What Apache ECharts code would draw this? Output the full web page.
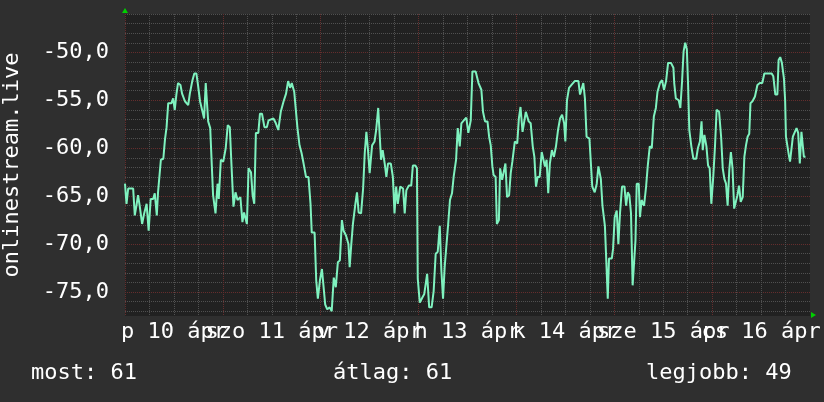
<!DOCTYPE html>
<html>
<head>
<meta charset="utf-8">
<script src="https://cdn.jsdelivr.net/npm/echarts@6/dist/echarts.min.js"></script>
<style>
html,body{margin:0;padding:0;background:#2f2f2f;}
#c{width:824px;height:402px;}
</style>
</head>
<body>
<div id="c"></div>
<script>
// Data (hours since Apr 10 00:00, value)
var hours = [0,0.37,0.78,2.0,2.4,2.8,3.2,3.6,4.2,4.7,5.3,5.8,6.3,6.9,7.3,7.8,8.1,8.8,9.4,9.8,10.2,10.6,11.4,11.8,12.2,12.6,13.0,13.6,14.0,14.7,15.5,15.9,16.5,17.0,17.5,17.9,18.4,18.9,19.4,19.8,20.1,20.4,20.9,21.2,21.6,22.2,22.7,23.0,23.5,24.1,24.7,25.2,25.7,26.1,26.6,27.1,
27.6,28.3,28.8,29.2,29.9,30.3,30.9,31.3,31.7,32.1,32.7,33.1,33.6,34.2,34.8,35.2,36.4,37.0,37.6,38.2,38.9,39.5,40.0,40.5,40.9,41.5,41.9,42.3,42.8,43.3,43.8,44.4,45.0,45.5,45.8,46.5,46.9,47.3,47.8,48.3,48.6,49.1,49.6,50.2,50.7,51.2,51.7,52.2,52.7,53.2,53.6,54.2,54.8,55.1,55.5,55.9,
56.5,56.9,57.3,57.9,58.4,58.8,59.2,59.6,60.0,60.6,61.2,61.6,62.1,62.5,62.8,63.2,63.7,64.1,64.5,65.2,65.7,66.1,66.5,66.9,67.5,68.2,68.6,69.0,69.6,70.2,70.6,71.2,71.6,71.8,72.3,72.9,73.4,74.1,74.6,75.2,75.7,76.2,76.7,77.2,77.6,78.0,78.4,78.8,79.3,79.7,80.2,80.6,81.2,81.6,82.1,82.5,83.1,83.7,84.2,84.8,
85.2,86.0,86.3,86.7,87.4,87.8,88.3,88.9,89.3,89.7,90.1,90.4,90.9,91.2,91.7,92.0,92.5,92.9,93.3,93.7,94.2,94.6,95.0,95.6,96.2,96.6,97.0,97.5,97.9,98.3,98.6,99.0,99.5,100.0,100.4,100.8,101.2,101.7,102.2,102.6,103.0,103.4,103.8,104.2,104.7,105.2,105.7,106.2,106.7,107.2,107.7,108.0,108.4,108.9,109.5,110.3,111.2,111.6,112.0,112.4,112.8,113.2,113.9,
114.2,114.6,115.2,115.7,116.1,116.7,117.1,117.7,118.1,118.4,118.7,119.4,119.7,120.1,120.6,121.0,121.4,121.9,122.5,122.9,123.3,123.7,124.1,124.5,124.8,125.2,125.5,126.0,126.3,126.7,127.3,127.8,128.2,128.7,129.2,129.7,130.2,130.6,131.2,131.7,132.2,132.7,133.2,133.9,134.5,134.7,135.1,135.8,136.2,136.6,137.0,137.4,137.8,138.1,138.4,138.9,139.4,140.1,140.5,141.0,141.4,141.7,142.1,
142.6,143.0,143.4,143.8,144.3,144.7,145.1,145.7,146.2,146.6,147.0,147.4,147.8,148.2,148.6,149.0,149.4,149.8,150.2,150.6,151.0,151.5,151.9,152.3,152.7,153.1,153.4,153.9,154.5,155.1,155.7,156.3,156.8,157.2,158.6,159.0,159.5,160.0,160.3,160.7,161.1,161.6,161.9,162.1,162.4,162.8,163.1,163.4,163.8,164.3,164.7,165.1,165.5,165.9,166.2,166.5,166.9];
var values = [-63.7,-65.8,-64.2,-64.2,-67.0,-66.0,-64.9,-66.0,-67.9,-66.8,-65.8,-68.6,-65.3,-65.3,-64.7,-67.0,-64.6,-61.2,-61.1,-59.1,-57.8,-55.3,-55.3,-54.8,-56.0,-54.4,-53.2,-53.4,-54.3,-55.1,-55.5,-54.3,-53.0,-52.2,-52.2,-53.4,-55.1,-56.0,-56.9,-53.2,-53.4,-57.2,-57.9,-60.9,-64.9,-66.8,-63.7,-65.3,-61.2,-61.4,-60.0,-57.6,-57.8,-61.6,-66.1,-64.6,
-65.4,-65.1,-67.7,-66.7,-67.9,-62.1,-62.5,-64.9,-65.8,-58.4,-58.4,-56.4,-56.4,-57.8,-57.8,-57.1,-56.9,-57.4,-58.1,-56.2,-55.1,-54.3,-53.0,-53.7,-53.2,-54.1,-54.3,-57.9,-59.7,-60.5,-61.6,-63.0,-63.0,-65.8,-68.8,-68.8,-73.8,-75.7,-73.8,-72.6,-74.0,-76.3,-76.8,-76.6,-77.0,-73.5,-74.5,-71.9,-71.7,-67.5,-68.6,-69.1,-70.0,-72.4,-70.0,-67.9,
-65.8,-64.6,-66.7,-66.8,-64.2,-60.5,-58.3,-60.2,-62.6,-59.7,-59.3,-58.1,-55.8,-56.0,-61.2,-60.2,-61.6,-63.0,-61.6,-61.6,-63.0,-66.8,-64.0,-65.8,-64.0,-64.2,-66.8,-64.4,-63.9,-63.9,-61.8,-61.8,-62.1,-73.6,-76.1,-75.6,-75.2,-73.1,-76.6,-76.6,-74.9,-71.0,-70.8,-68.1,-72.8,-75.7,-72.4,-70.3,-67.7,-65.4,-64.7,-63.0,-61.2,-57.9,-59.8,-57.4,-57.1,-56.8,-58.4,-57.1,
-52.0,-52.0,-51.8,-53.2,-53.9,-56.2,-57.2,-57.2,-58.8,-59.7,-61.9,-62.8,-63.0,-67.9,-67.5,-62.1,-63.3,-63.5,-61.6,-65.1,-64.9,-62.6,-61.4,-59.3,-59.5,-56.9,-55.7,-58.3,-58.3,-56.2,-56.4,-57.2,-57.4,-59.8,-60.9,-64.0,-63.0,-63.0,-60.4,-60.4,-61.9,-61.2,-64.7,-61.6,-60.2,-60.9,-59.8,-58.1,-56.9,-56.5,-57.4,-59.3,-55.0,-53.7,-53.4,-53.0,-53.0,-54.4,-54.4,-53.2,-54.8,-58.8,-59.0,
-59.1,-64.0,-64.6,-63.7,-61.9,-63.2,-66.0,-68.1,-72.4,-75.7,-71.5,-71.5,-70.5,-67.2,-66.5,-70.0,-66.8,-64.0,-64.0,-66.0,-64.6,-64.9,-66.8,-74.3,-74.3,-69.6,-63.7,-63.7,-67.2,-65.4,-66.0,-64.0,-61.9,-59.8,-60.0,-56.7,-55.8,-54.1,-53.2,-52.9,-53.9,-53.0,-51.1,-51.1,-51.6,-53.2,-54.8,-55.0,-55.8,-53.2,-49.9,-49.0,-49.7,-53.4,-58.1,-59.8,-61.1,-61.1,-60.0,-59.3,-57.2,-60.2,-58.6,
-59.8,-61.8,-62.1,-65.8,-62.8,-59.8,-56.0,-56.2,-58.8,-62.1,-63.2,-63.7,-66.0,-62.3,-60.4,-62.1,-66.3,-66.5,-64.9,-63.9,-65.6,-65.1,-60.9,-59.7,-58.8,-58.5,-55.3,-55.1,-54.6,-53.4,-53.2,-53.2,-52.2,-52.2,-52.2,-52.5,-54.4,-54.4,-50.8,-50.5,-51.1,-52.7,-55.0,-58.8,-59.0,-60.7,-61.4,-61.4,-58.8,-58.3,-57.9,-58.4,-61.6,-58.3,-58.3,-60.9,-60.9];

var dayLabels = ['p 10 ápr','szo 11 ápr','v 12 ápr','h 13 ápr','k 14 ápr','sze 15 ápr','cs 16 ápr'];
var dayLabelHours = [12,36,60,84,108,132,156];
var xMajorTicks = [0,24,48,72,96,120,144];
var xMinorTicks = [6,12,18,30,36,42,54,60,66,78,84,90,102,108,114,126,132,138,150,156,162];
var yMajorTicks = [-75,-70,-65,-60,-55,-50];
var yMinorTicks = [-77,-76,-74,-73,-72,-71,-69,-68,-67,-66,-64,-63,-62,-61,-59,-58,-57,-56,-54,-53,-52,-51,-49,-48,-47,-46];
var axisTitle = 'onlinestream.live';
var statTexts = ['most: 61','átlag: 61','legjobb: 49'];

var FONT = '"DejaVu Sans Mono", monospace';
var MINOR = '#505050', MAJOR = '#652d2d';
var X_MIN = 0, X_MAX = 168, Y_MIN = -77.5, Y_MAX = -46;

var seriesData = hours.map(function(h,i){return [h, values[i]];});
// split label positions into two non-overlapping groups (even / odd days)
var labelHoursA = dayLabelHours.filter(function(h,i){return i%2===0;});
var labelHoursB = dayLabelHours.filter(function(h,i){return i%2===1;});

function gridAxisX(ticks, color, labelHours){
  return {
    type:'value', min:X_MIN, max:X_MAX, position:'bottom',
    axisLine:{show:false},
    axisTick:{show:false, customValues:ticks},
    splitLine:{show:true, lineStyle:{color:color, type:[1,1], width:1}},
    axisLabel: {
      show:true, margin:5, color:'#ffffff', fontFamily:FONT, fontSize:22,
      showMinLabel:true, showMaxLabel:true, hideOverlap:false,
      customValues: labelHours,
      formatter:function(v){ var i = dayLabelHours.indexOf(Math.round(v)); return i>=0 ? dayLabels[i] : ''; }
    }
  };
}
function gridAxisY(ticks, color, withLabels){
  var a = {
    type:'value', min:Y_MIN, max:Y_MAX, position:'left',
    axisLine:{show:false},
    axisTick:{show:false, customValues:ticks},
    splitLine:{show:true, lineStyle:{color:color, type:[1,1], width:1}},
    axisLabel: withLabels ? {
      show:true, margin:16, color:'#ffffff', fontFamily:FONT, fontSize:22,
      showMinLabel:true, showMaxLabel:true,
      customValues: yMajorTicks,
      formatter:function(v){ return v.toFixed(1).replace('.',','); }
    } : {show:false}
  };
  if (withLabels) {
    a.name = axisTitle; a.nameLocation = 'middle'; a.nameRotate = 90; a.nameGap = 102;
    a.nameTextStyle = {color:'#ffffff', fontFamily:FONT, fontSize:22};
  }
  return a;
}

var chart = echarts.init(document.getElementById('c'), null, {renderer:'canvas'});
chart.setOption({
  backgroundColor: '#2f2f2f',
  animation: false,
  grid: {left:125, right:14, top:14, bottom:86, show:true, backgroundColor:'#212121', borderWidth:0,
         containLabel:false, outerBoundsMode:'none'},
  xAxis: [gridAxisX(xMajorTicks, MAJOR, labelHoursA), gridAxisX(xMinorTicks, MINOR, labelHoursB)],
  yAxis: [gridAxisY(yMajorTicks, MAJOR, true), gridAxisY(yMinorTicks, MINOR, false)],
  series: [{
    type:'line', data:seriesData, xAxisIndex:0, yAxisIndex:0, showSymbol:false, symbol:'none',
    lineStyle:{color:'#7ff2bf', width:2}, z:5
  }],
  graphic: [
    {type:'polygon', shape:{points:[[122,13],[128,13],[125,8]]}, style:{fill:'#00d000'}, z:100},
    {type:'polygon', shape:{points:[[811,312],[811,318],[816,315]]}, style:{fill:'#00d000'}, z:100},
    {type:'text', left:31, top:362, style:{text:statTexts[0], fill:'#ffffff', font:'22px "DejaVu Sans Mono"'}},
    {type:'text', left:333, top:362, style:{text:statTexts[1], fill:'#ffffff', font:'22px "DejaVu Sans Mono"'}},
    {type:'text', left:646, top:362, style:{text:statTexts[2], fill:'#ffffff', font:'22px "DejaVu Sans Mono"'}}
  ]
});
</script>
</body>
</html>
